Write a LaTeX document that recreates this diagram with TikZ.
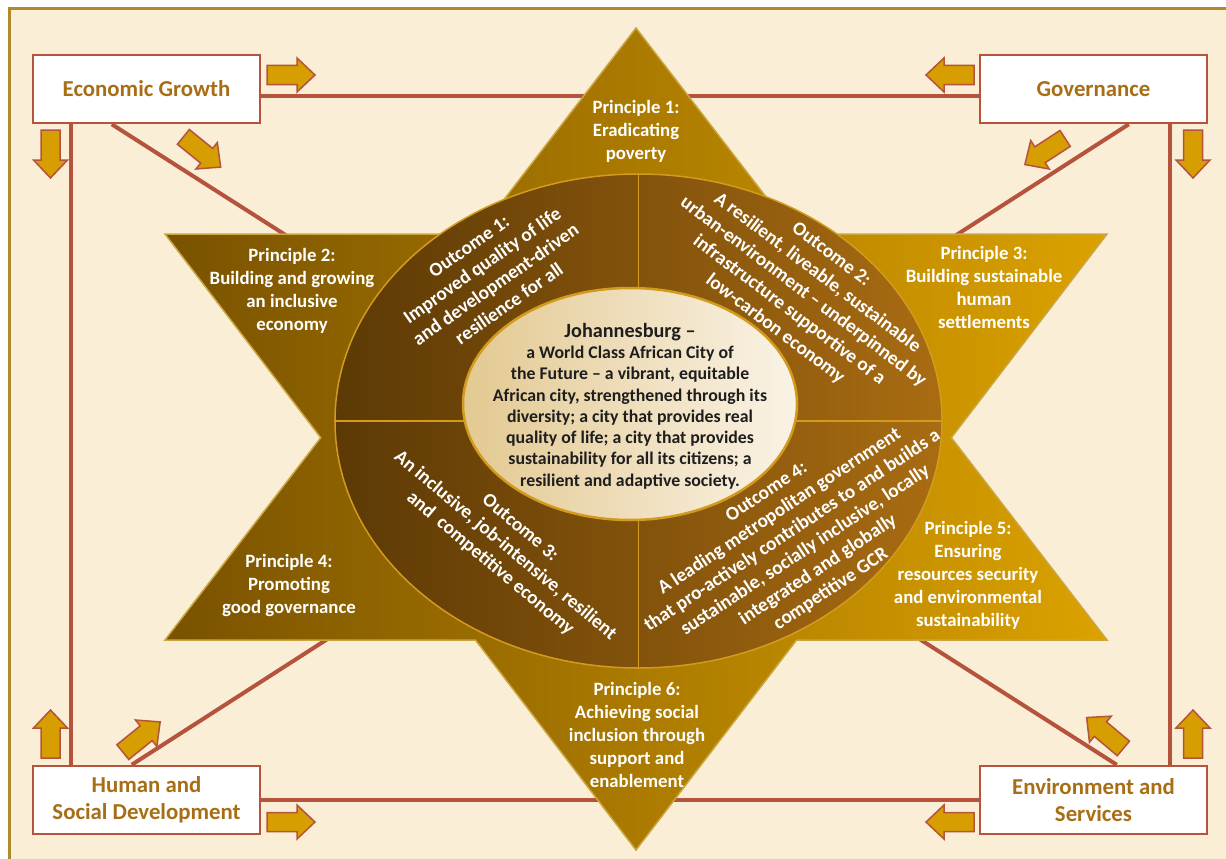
\documentclass[tikz,border=0pt]{standalone}
\usepackage{fontspec}
\setmainfont{Carlito}
\usetikzlibrary{shapes.geometric}
\definecolor{cream}{HTML}{FBEED7}
\definecolor{framegold}{HTML}{B08A2A}
\definecolor{rust}{HTML}{B5533C}
\definecolor{arrowgold}{HTML}{D69E00}
\definecolor{labelgold}{HTML}{A86E16}
\definecolor{starleft}{HTML}{795200}
\definecolor{starmid}{HTML}{AC7C00}
\definecolor{starright}{HTML}{DCA200}
\definecolor{staredge}{HTML}{C9A640}
\definecolor{ringleft}{HTML}{5C3905}
\definecolor{ringright}{HTML}{A96C12}
\definecolor{ringedge}{HTML}{D29B1E}
\definecolor{coreleft}{HTML}{E3C991}
\definecolor{coreright}{HTML}{FAF3E6}
\definecolor{coretext}{HTML}{1E1E1E}
\pgfdeclarelayer{backdrop}
\pgfdeclarelayer{links}
\pgfsetlayers{backdrop,links,main}
\begin{document}
\begin{tikzpicture}[x=1pt,y=-1pt,
  linkline/.style={draw=rust,line width=4pt},
  boxstyle/.style={draw=rust,line width=2.5pt,fill=white,minimum width=227pt,
    minimum height=68pt,inner sep=0pt,align=center,text=labelgold,
    font=\bfseries\fontsize{22.8}{27}\selectfont},
  principle/.style={text=white,align=center,inner sep=0pt,
    font=\bfseries\fontsize{18.8}{23}\selectfont},
  outcome/.style={text=white,align=center,inner sep=0pt,
    font=\bfseries\fontsize{19.3}{23.3}\selectfont},
  visiontext/.style={text=coretext,align=center,inner sep=0pt,
    font=\bfseries\fontsize{17.8}{21.3}\selectfont},
  divider/.style={draw=ringedge,line width=1.5pt},
  barrow/.pic={\path[draw=rust,line width=1.5pt,fill=arrowgold,line join=miter]
    (-24,-9.5) -- (6,-9.5) -- (6,-17) -- (24,0) -- (6,17) -- (6,9.5) -- (-24,9.5) -- cycle;}
]
\useasboundingbox (0,0) rectangle (1226,859);
\clip (0,0) rectangle (1226,859);

% page and frame
\begin{pgfonlayer}{backdrop}
  \fill[white] (0,0) rectangle (1226,859);
  \draw[framegold,line width=3pt,fill=cream] (9,9) rectangle (1245,880);
\end{pgfonlayer}

% six-pointed star
\shadedraw[left color=starleft,middle color=starmid,right color=starright,
  draw=staredge,line width=1.5pt,line join=miter]
  (636,28) -- (794.5,234) -- (1107,234) -- (951.3,437.7) -- (1107,640)
  -- (796.6,640) -- (636,850) -- (475.4,640) -- (165,640) -- (320.7,437.7)
  -- (165,234) -- (477.5,234) -- cycle;

% outcome ring and vision core
\node[ellipse,minimum width=607pt,minimum height=494pt,inner sep=0pt,
  left color=ringleft,right color=ringright,draw=ringedge,line width=1.5pt]
  (ring) at (638.5,421) {};
\draw[divider] (ring.north) -- (ring.south);
\draw[divider] (ring.west) -- (ring.east);
\node[ellipse,minimum width=334pt,minimum height=232pt,inner sep=0pt,
  left color=coreleft,right color=coreright,draw=ringedge,line width=2.5pt]
  (core) at (630,404) {};

\node[visiontext] (vision) at (630,406)
  {{\fontsize{20.2}{23}\selectfont Johannesburg –}\\
   a World Class African City of\\
   the Future – a vibrant, equitable\\
   African city, strengthened through its\\
   diversity; a city that provides real\\
   quality of life; a city that provides\\
   sustainability for all its citizens; a\\
   resilient and adaptive society.};

% principles
\node[principle] (p1) at (636,131) {Principle 1:\\Eradicating\\poverty};
\node[principle] (p2) at (292,291) {Principle 2:\\Building and growing\\an inclusive\\economy};
\node[principle] (p3) at (984,287) {Principle 3:\\Building sustainable\\human\\settlements};
\node[principle] (p4) at (289,585) {Principle 4:\\Promoting\\good governance};
\node[principle] (p5) at (968,575) {Principle 5:\\Ensuring\\resources security\\and environmental\\sustainability};
\node[principle] (p6) at (637,735) {Principle 6:\\Achieving social\\inclusion through\\support and\\enablement};

% outcomes
\node[outcome,rotate=35] (o1) at (489,275)
  {Outcome 1:\\Improved quality of life\\and development-driven\\resilience for all};
\node[outcome,rotate=-37] (o2) at (803,292)
  {Outcome 2:\\A resilient, liveable, sustainable\\urban-environment – underpinned by\\infrastructure supportive of a\\low-carbon economy};
\node[outcome,rotate=-40] (o3) at (505,546)
  {Outcome 3:\\An inclusive, job-intensive, resilient\\and~~competitive economy};
\node[outcome,rotate=33.5] (o4) at (799,541)
  {Outcome 4:\\A leading metropolitan government\\that pro-actively contributes to and builds a\\sustainable, socially inclusive, locally\\integrated and globally\\competitive GCR};

% corner boxes
\node[boxstyle] (eg)  at (146.5,89)  {Economic Growth};
\node[boxstyle] (gov) at (1093.5,89) {Governance};
\node[boxstyle] (hsd) at (146.5,800) {Human and\\Social Development};
\node[boxstyle] (es)  at (1093.5,800) {Environment and\\Services};

% links between the corner boxes
\begin{pgfonlayer}{links}
  \draw[linkline] ([yshift=-7pt]eg.east) -- ([yshift=-7pt]gov.west);
  \draw[linkline] (hsd.east) -- (es.west);
  \draw[linkline] ([xshift=39pt]eg.south west) -- ([xshift=39pt]hsd.north west);
  \draw[linkline] ([xshift=191pt]gov.south west) -- ([xshift=191pt]es.north west);
  \draw[linkline] ([xshift=80pt]eg.south west) -- ([xshift=138pt]es.north west);
  \draw[linkline] ([xshift=150pt]gov.south west) -- ([xshift=100pt]hsd.north west);
\end{pgfonlayer}

% flow arrows
\pic (egright) at (291,75) {barrow};
\pic[rotate=-90] (egdown) at (50.5,154) {barrow};
\pic[rotate=-39] (egdiag) at (202,152) {barrow};
\pic[rotate=180] (govleft) at (950,75) {barrow};
\pic[rotate=-90] (govdown) at (1193,154) {barrow};
\pic[rotate=-147] (govdiag) at (1045,151.5) {barrow};
\pic[rotate=90] (hsdup) at (50.5,734) {barrow};
\pic[rotate=39] (hsddiag) at (141.5,737) {barrow};
\pic (hsdright) at (291,822) {barrow};
\pic[rotate=180] (esleft) at (950,822) {barrow};
\pic[rotate=90] (esup) at (1193,734) {barrow};
\pic[rotate=140] (esdiag) at (1105,733) {barrow};
\end{tikzpicture}
\end{document}
